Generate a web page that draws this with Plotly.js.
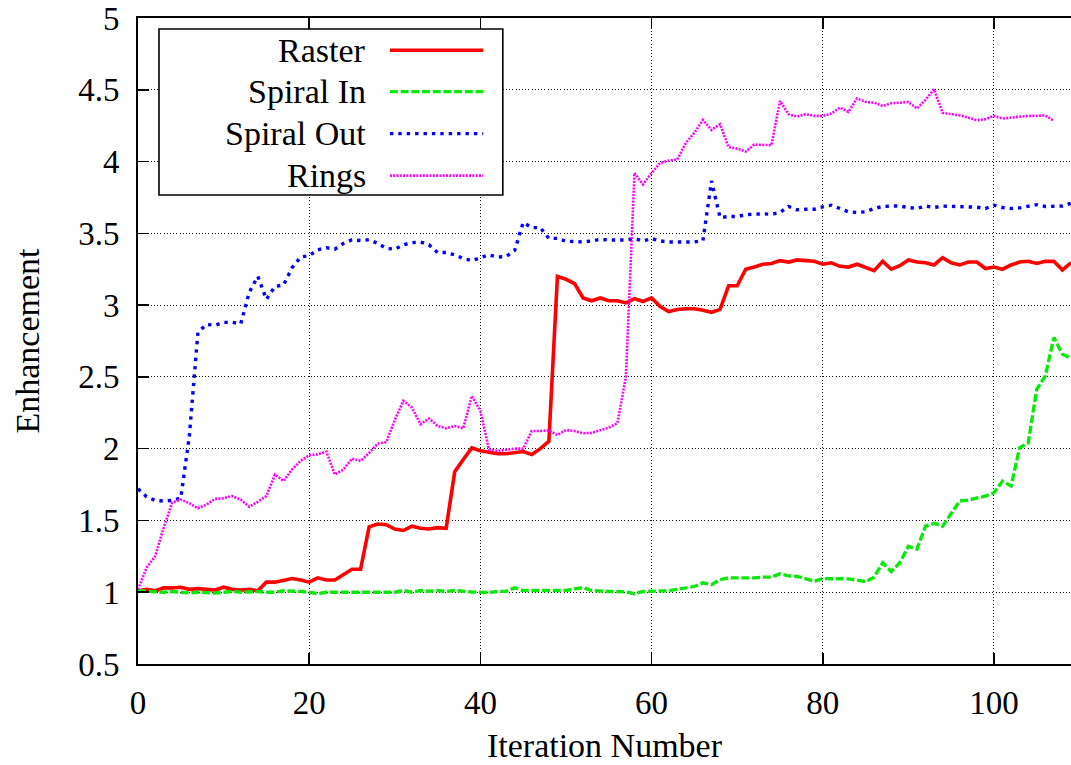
<!DOCTYPE html>
<html>
<head>
<meta charset="utf-8">
<script src="https://cdn.plot.ly/plotly-3.0.1.min.js"></script>
<style>
  html, body { margin: 0; padding: 0; background: #fff; }
  #chart { width: 1071px; height: 765px; }
</style>
</head>
<body>
<div id="chart"></div>
<script>
// Enhancement per iteration for four scan strategies
const raster = [
  1.01, 1.02, 1.01, 1.03, 1.03, 1.035, 1.02, 1.025, 1.02, 1.015,
  1.035, 1.02, 1.015, 1.02, 1.01, 1.07, 1.07, 1.08, 1.095, 1.085,
  1.07, 1.10, 1.085, 1.085, 1.12, 1.16, 1.16, 1.455, 1.475, 1.47,
  1.44, 1.43, 1.46, 1.445, 1.44, 1.45, 1.445, 1.84, 1.925, 2.005,
  1.985, 1.975, 1.965, 1.965, 1.975, 1.98, 1.96, 2.0, 2.05, 3.2,
  3.18, 3.15, 3.05, 3.03, 3.05, 3.03, 3.03, 3.015, 3.045, 3.025,
  3.05, 2.99, 2.955, 2.97, 2.975, 2.975, 2.965, 2.95, 2.97, 3.135,
  3.135, 3.25, 3.265, 3.285, 3.29, 3.31, 3.30, 3.315, 3.31, 3.305,
  3.285, 3.295, 3.27, 3.265, 3.285, 3.265, 3.24, 3.305, 3.25, 3.275,
  3.315, 3.30, 3.295, 3.28, 3.33, 3.295, 3.28, 3.30, 3.30, 3.255,
  3.265, 3.25, 3.28, 3.30, 3.305, 3.29, 3.305, 3.305, 3.245, 3.295
];

const spiralIn = [
  1.01, 1.005, 1.0, 1.0, 1.005, 1.0, 0.995, 1.0, 0.995, 0.995,
  1.0, 1.005, 1.0, 1.005, 1.005, 1.0, 1.0, 1.01, 1.01, 1.005,
  1.0, 0.99, 1.0, 1.0, 1.0, 1.005, 1.0, 1.0, 1.0, 1.0,
  1.0, 1.012, 1.0, 1.012, 1.007, 1.012, 1.005, 1.012, 1.005, 1.002,
  1.0, 0.998, 1.005, 1.007, 1.03, 1.012, 1.012, 1.012, 1.012, 1.012,
  1.012, 1.023, 1.032, 1.012, 1.007, 1.005, 1.005, 1.002, 0.99, 1.005,
  1.007, 1.007, 1.01, 1.02, 1.03, 1.04, 1.065, 1.053, 1.088, 1.10,
  1.10, 1.098, 1.10, 1.105, 1.105, 1.128, 1.114, 1.11, 1.093, 1.077,
  1.095, 1.093, 1.093, 1.093, 1.084, 1.074, 1.105, 1.205, 1.144, 1.205,
  1.32, 1.30, 1.46, 1.48, 1.46, 1.553, 1.635, 1.642, 1.656, 1.67,
  1.693, 1.774, 1.74, 2.007, 2.04, 2.414, 2.507, 2.774, 2.658, 2.63
];

const spiralOut = [
  1.72, 1.665, 1.64, 1.635, 1.64, 1.656, 2.09, 2.81, 2.865, 2.86,
  2.88, 2.88, 2.87, 3.09, 3.2, 3.04, 3.13, 3.14, 3.26, 3.335,
  3.345, 3.385, 3.40, 3.39, 3.43, 3.455, 3.45, 3.455, 3.43, 3.395,
  3.39, 3.42, 3.435, 3.44, 3.42, 3.366, 3.366, 3.35, 3.325, 3.31,
  3.33, 3.35, 3.335, 3.338, 3.38, 3.575, 3.54, 3.54, 3.465, 3.465,
  3.445, 3.44, 3.44, 3.447, 3.458, 3.454, 3.454, 3.454, 3.463, 3.447,
  3.463, 3.447, 3.44, 3.44, 3.44, 3.44, 3.45, 3.865, 3.61, 3.617,
  3.617, 3.63, 3.633, 3.636, 3.633, 3.645, 3.687, 3.664, 3.668, 3.668,
  3.684, 3.696, 3.673, 3.65, 3.645, 3.65, 3.673, 3.687, 3.69, 3.69,
  3.68, 3.673, 3.69, 3.68, 3.69, 3.687, 3.687, 3.684, 3.682, 3.673,
  3.696, 3.68, 3.673, 3.677, 3.687, 3.70, 3.687, 3.687, 3.69, 3.71
];

const rings = [
  1.02, 1.17, 1.25, 1.45, 1.625, 1.645, 1.62, 1.585, 1.61, 1.65,
  1.655, 1.67, 1.645, 1.595, 1.63, 1.67, 1.82, 1.775, 1.855, 1.915,
  1.955, 1.96, 1.98, 1.82, 1.855, 1.93, 1.915, 1.97, 2.035, 2.045,
  2.2, 2.333, 2.286, 2.17, 2.21, 2.158, 2.142, 2.158, 2.142, 2.367,
  2.263, 1.995, 1.984, 1.99, 2.0, 2.0, 2.123, 2.123, 2.128, 2.095,
  2.13, 2.123, 2.107, 2.11, 2.128, 2.147, 2.177, 2.5, 3.92, 3.84,
  3.92, 3.99, 4.007, 4.014, 4.13, 4.2, 4.29, 4.22, 4.26, 4.1,
  4.09, 4.07, 4.118, 4.114, 4.114, 4.422, 4.33, 4.313, 4.33, 4.318,
  4.318, 4.334, 4.376, 4.346, 4.44, 4.415, 4.41, 4.387, 4.406, 4.41,
  4.415, 4.37, 4.43, 4.503, 4.34, 4.33, 4.322, 4.306, 4.288, 4.295,
  4.318, 4.30, 4.306, 4.313, 4.318, 4.318, 4.322, 4.283
];

const seriesNames = ['Raster', 'Spiral In', 'Spiral Out', 'Rings'];
const xTicks = [0, 20, 40, 60, 80, 100];
const yTicks = [0.5, 1, 1.5, 2, 2.5, 3, 3.5, 4, 4.5, 5];

const FONT = '"Liberation Serif", "DejaVu Serif", serif';
const FS = 33;

const styles = [
  { color: '#ff0000', width: 3.6, dash: 'solid' },
  { color: '#0be80b', width: 3.4, dash: '8px,2.7px' },
  { color: '#0000ff', width: 3.4, dash: '3.4px,5px' },
  { color: '#ff00ff', width: 2.6, dash: '2px,1.3px' }
];

const series = [raster, spiralIn, spiralOut, rings];
const traces = series.map((ys, k) => ({
  type: 'scatter',
  mode: 'lines',
  name: seriesNames[k],
  x: ys.map((_, i) => i),
  y: ys,
  line: { color: styles[k].color, width: styles[k].width, dash: styles[k].dash },
  showlegend: false,
  hoverinfo: 'skip'
}));

// Key box: label text on the left, line sample on the right
const keyRows = [0.950, 0.886, 0.821, 0.756];
const shapes = [{
  type: 'rect', xref: 'paper', yref: 'paper',
  x0: 0.0225, x1: 0.391, y0: 0.726, y1: 0.983,
  fillcolor: '#ffffff', line: { color: '#000', width: 1.6 }, layer: 'above'
}];
const annotations = [];
seriesNames.forEach((name, k) => {
  annotations.push({
    xref: 'paper', yref: 'paper', x: 0.2465, y: keyRows[k],
    xanchor: 'right', yanchor: 'middle', showarrow: false,
    text: name, font: { family: FONT, size: 34, color: '#000' }
  });
  shapes.push({
    type: 'line', xref: 'paper', yref: 'paper',
    x0: 0.270, x1: 0.370, y0: keyRows[k], y1: keyRows[k],
    line: { color: styles[k].color, width: styles[k].width, dash: styles[k].dash },
    layer: 'above'
  });
});

const axisCommon = {
  showline: true, linecolor: '#000', linewidth: 2,
  ticks: 'inside', ticklen: 11, tickwidth: 1.5, tickcolor: '#000',
  showgrid: true, gridcolor: '#111', gridwidth: 1, griddash: '1px,2.2px',
  zeroline: false,
  tickfont: { family: FONT, size: FS, color: '#000' }
};

const layout = {
  width: 1071, height: 765,
  margin: { l: 138, r: 0, t: 18, b: 101 },
  paper_bgcolor: '#fff', plot_bgcolor: '#fff',
  font: { family: FONT, size: FS, color: '#000' },
  xaxis: Object.assign({}, axisCommon, {
    range: [0, 109], tickvals: xTicks, ticktext: xTicks.map(String),
    mirror: 'ticks', ticklabelstandoff: 8,
    title: { text: 'Iteration Number', font: { family: FONT, size: 34, color: '#000' }, standoff: 14 }
  }),
  yaxis: Object.assign({}, axisCommon, {
    range: [0.5, 5], tickvals: yTicks, ticktext: yTicks.map(String),
    ticklabelstandoff: 10,
    title: { text: 'Enhancement', font: { family: FONT, size: 34, color: '#000' }, standoff: 28 }
  }),
  shapes: shapes,
  annotations: annotations,
  showlegend: false
};

Plotly.newPlot('chart', traces, layout, { staticPlot: true, displayModeBar: false });
</script>
</body>
</html>
